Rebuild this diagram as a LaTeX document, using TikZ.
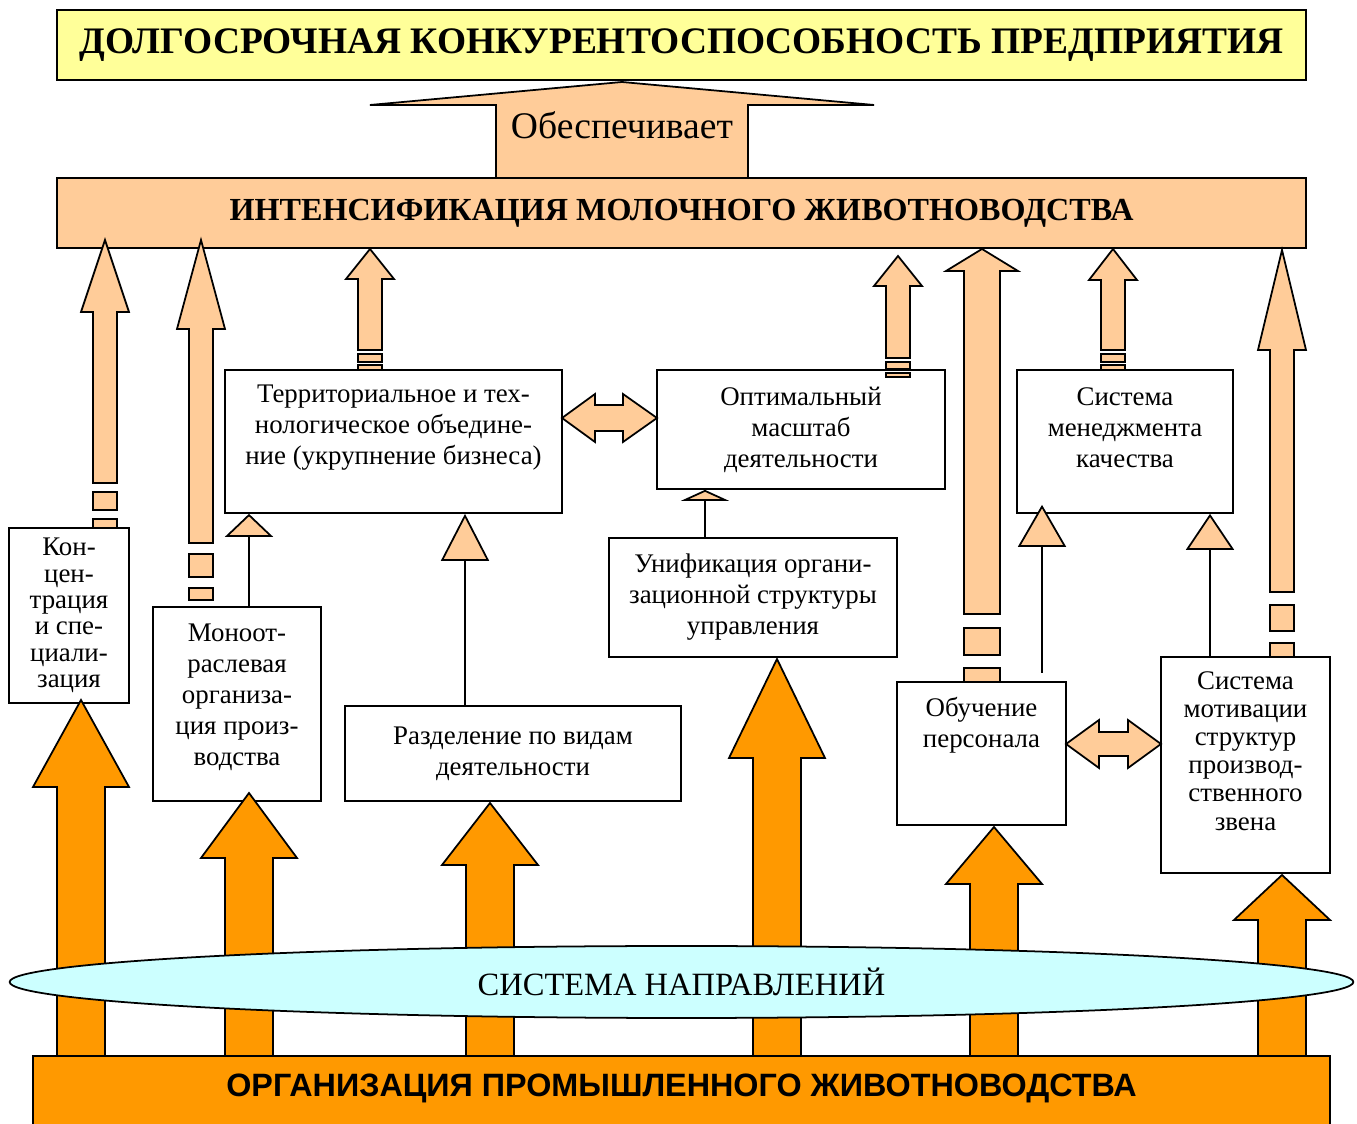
\documentclass[tikz,border=0pt]{standalone}
\usepackage{fontspec}
\setmainfont{Liberation Serif}
\newfontfamily\arialfont{Liberation Sans}
\usetikzlibrary{arrows.meta,shapes.geometric}

\definecolor{titlebg}{HTML}{FFFF99}
\definecolor{peach}{HTML}{FFCC99}
\definecolor{deeporange}{HTML}{FF9900}
\definecolor{paleblue}{HTML}{CCFFFF}

% block arrow pointing up: x, half shaft, half head, tip y, head base y, shaft end y, fill
\newcommand{\blockup}[7]{%
  \draw[line width=1pt, fill=#7] (#1-#2,#6) -- (#1-#2,#5) -- (#1-#3,#5) -- (#1,#4)
    -- (#1+#3,#5) -- (#1+#2,#5) -- (#1+#2,#6) -- cycle;}
% piece of a broken shaft: x, half width, top y, bottom y
\newcommand{\shaftpiece}[4]{%
  \draw[line width=1pt, fill=peach] (#1-#2,#3) rectangle (#1+#2,#4);}
% two-headed block arrow: left x, right x, left base, right base, y, half shaft, half head
\newcommand{\twoway}[7]{%
  \draw[line width=1pt, fill=peach] (#1,#5) -- (#3,#5-#7) -- (#3,#5-#6) -- (#4,#5-#6)
    -- (#4,#5-#7) -- (#2,#5) -- (#4,#5+#7) -- (#4,#5+#6) -- (#3,#5+#6) -- (#3,#5+#7) -- cycle;}

\tikzset{
  box/.style={draw, line width=1pt, fill=white, inner sep=0pt, align=center,
    font=\fontsize{15.3}{17.6}\selectfont},
  txt/.style={align=center, inner sep=0pt, font=\fontsize{15.3}{17.6}\selectfont},
  link/.style={line width=1pt, -{Triangle[width=0.96cm, length=#1, fill=peach]}}
}

\begin{document}
\begin{tikzpicture}[x=0.02cm, y=-0.02cm]
\useasboundingbox (0,0) rectangle (1357,1124);

% top
\node[box, fill=titlebg, minimum width=24.98cm, minimum height=1.4cm,
  font=\fontsize{21.3}{24}\selectfont\bfseries] (goal) at (681.5,45)
  {ДОЛГОСРОЧНАЯ КОНКУРЕНТОСПОСОБНОСТЬ ПРЕДПРИЯТИЯ};
\blockup{622}{126}{252}{82}{105}{178}{peach}
\node[font=\fontsize{21.4}{24}\selectfont, inner sep=0pt] (ensures) at (622,125) {Обеспечивает};
\node[box, fill=peach, minimum width=24.98cm, minimum height=1.4cm,
  font=\fontsize{18.3}{22}\selectfont\bfseries] (intens) at (681.5,213)
  {ИНТЕНСИФИКАЦИЯ МОЛОЧНОГО ЖИВОТНОВОДСТВА};

% directions
\node[box, minimum width=2.4cm, minimum height=3.5cm,
  font=\fontsize{15.3}{15}\selectfont] (b1) at (69,615.5)
  {Кон-\\цен-\\трация\\и спе-\\циали-\\зация};
\node[box, minimum width=3.36cm, minimum height=3.88cm] (b2) at (237,704) {};
\node[txt] (t2) at (237,697) {Моноот-\\раслевая\\организа-\\ция произ-\\водства};
\node[box, minimum width=6.74cm, minimum height=2.86cm] (b3) at (393.5,441.5) {};
\node[txt] (t3) at (393.5,428)
  {Территориальное и тех-\\нологическое объедине-\\ние (укрупнение бизнеса)};
\node[box, minimum width=5.76cm, minimum height=2.38cm] (b4) at (801,429.5)
  {Оптимальный\\масштаб\\деятельности};
\node[box, minimum width=4.32cm, minimum height=2.86cm] (b5) at (1125,441.5) {};
\node[txt] (t5) at (1125,428) {Система\\менеджмента\\качества};
\node[box, minimum width=5.76cm, minimum height=2.38cm] (b6) at (753,597.5)
  {Унификация органи-\\зационной структуры\\управления};
\node[box, minimum width=6.72cm, minimum height=1.9cm] (b7) at (513,753.5)
  {Разделение по видам\\деятельности};
\node[box, minimum width=3.38cm, minimum height=2.86cm] (b8) at (981.5,753.5) {};
\node[txt] (t8) at (981.5,725) {Обучение\\персонала};
\node[box, minimum width=3.38cm, minimum height=4.32cm] (b9) at (1245.5,765) {};
\node[txt, font=\fontsize{15.3}{16}\selectfont] (t9) at (1245.5,751)
  {Система\\мотивации\\структур\\производ-\\ственного\\звена};

% thin links
\coordinate (k1) at (249,0);
\coordinate (k2) at (465,0);
\coordinate (k3) at (705,0);
\coordinate (k4) at (1042,673);
\coordinate (k5) at (1210,0);
\draw[link=0.46cm] (b2.north -| k1) -- (b3.south -| k1);
\draw[link=0.94cm] (b7.north -| k2) -- (b3.south -| k2);
\draw[link=0.22cm] (b6.north -| k3) -- (b4.south -| k3);
\draw[link=0.84cm, shorten >=-0.18cm] (k4) -- (b5.south -| k4);
\draw[link=0.72cm] (b9.north -| k5) -- (b5.south -| k5);

\twoway{562}{657}{595}{623}{418}{13}{24}
\twoway{1066}{1161}{1099}{1128}{744}{12}{24}

% arrows up to the intensification
\blockup{105}{12}{24}{240}{312}{483}{peach}
\shaftpiece{105}{12}{492}{510}
\shaftpiece{105}{12}{519}{528}
\blockup{201}{12}{24}{240}{329}{543}{peach}
\shaftpiece{201}{12}{554}{577}
\shaftpiece{201}{12}{588}{600}
\blockup{370}{12}{24}{249}{279}{350}{peach}
\shaftpiece{370}{12}{354}{362}
\shaftpiece{370}{12}{365}{370}
\blockup{898}{12}{24}{256}{286}{358}{peach}
\shaftpiece{898}{12}{362}{369}
\shaftpiece{898}{12}{373}{377}
\blockup{982}{18}{36}{249}{271}{614}{peach}
\shaftpiece{982}{18}{628}{655}
\shaftpiece{982}{18}{668}{682}
\blockup{1113}{12}{24}{249}{280}{350}{peach}
\shaftpiece{1113}{12}{354}{362}
\shaftpiece{1113}{12}{365}{370}
\blockup{1282}{12}{24}{250}{350}{592}{peach}
\shaftpiece{1282}{12}{605}{631}
\shaftpiece{1282}{12}{643}{657}

% arrows from the base
\blockup{81}{24}{48}{700}{787}{1056}{deeporange}
\blockup{249}{24}{48}{793}{858}{1056}{deeporange}
\blockup{490}{24}{48}{803}{865}{1056}{deeporange}
\blockup{777}{24}{48}{659}{758}{1056}{deeporange}
\blockup{994}{24}{48}{827}{884}{1056}{deeporange}
\blockup{1282}{24}{48}{875}{920}{1056}{deeporange}

\node[ellipse, draw, line width=1pt, fill=paleblue, minimum width=26.88cm,
  minimum height=1.44cm, inner sep=0pt, font=\fontsize{18.5}{22}\selectfont]
  (dirs) at (681.5,982) {СИСТЕМА НАПРАВЛЕНИЙ};
\node[draw, line width=1pt, fill=deeporange, minimum width=25.94cm, minimum height=1.6cm,
  inner sep=0pt] (base) at (681.5,1096) {};
\node[font=\fontsize{18.4}{22}\selectfont\arialfont\bfseries, inner sep=0pt] (baset)
  at (681.5,1088) {ОРГАНИЗАЦИЯ ПРОМЫШЛЕННОГО ЖИВОТНОВОДСТВА};
\end{tikzpicture}
\end{document}
